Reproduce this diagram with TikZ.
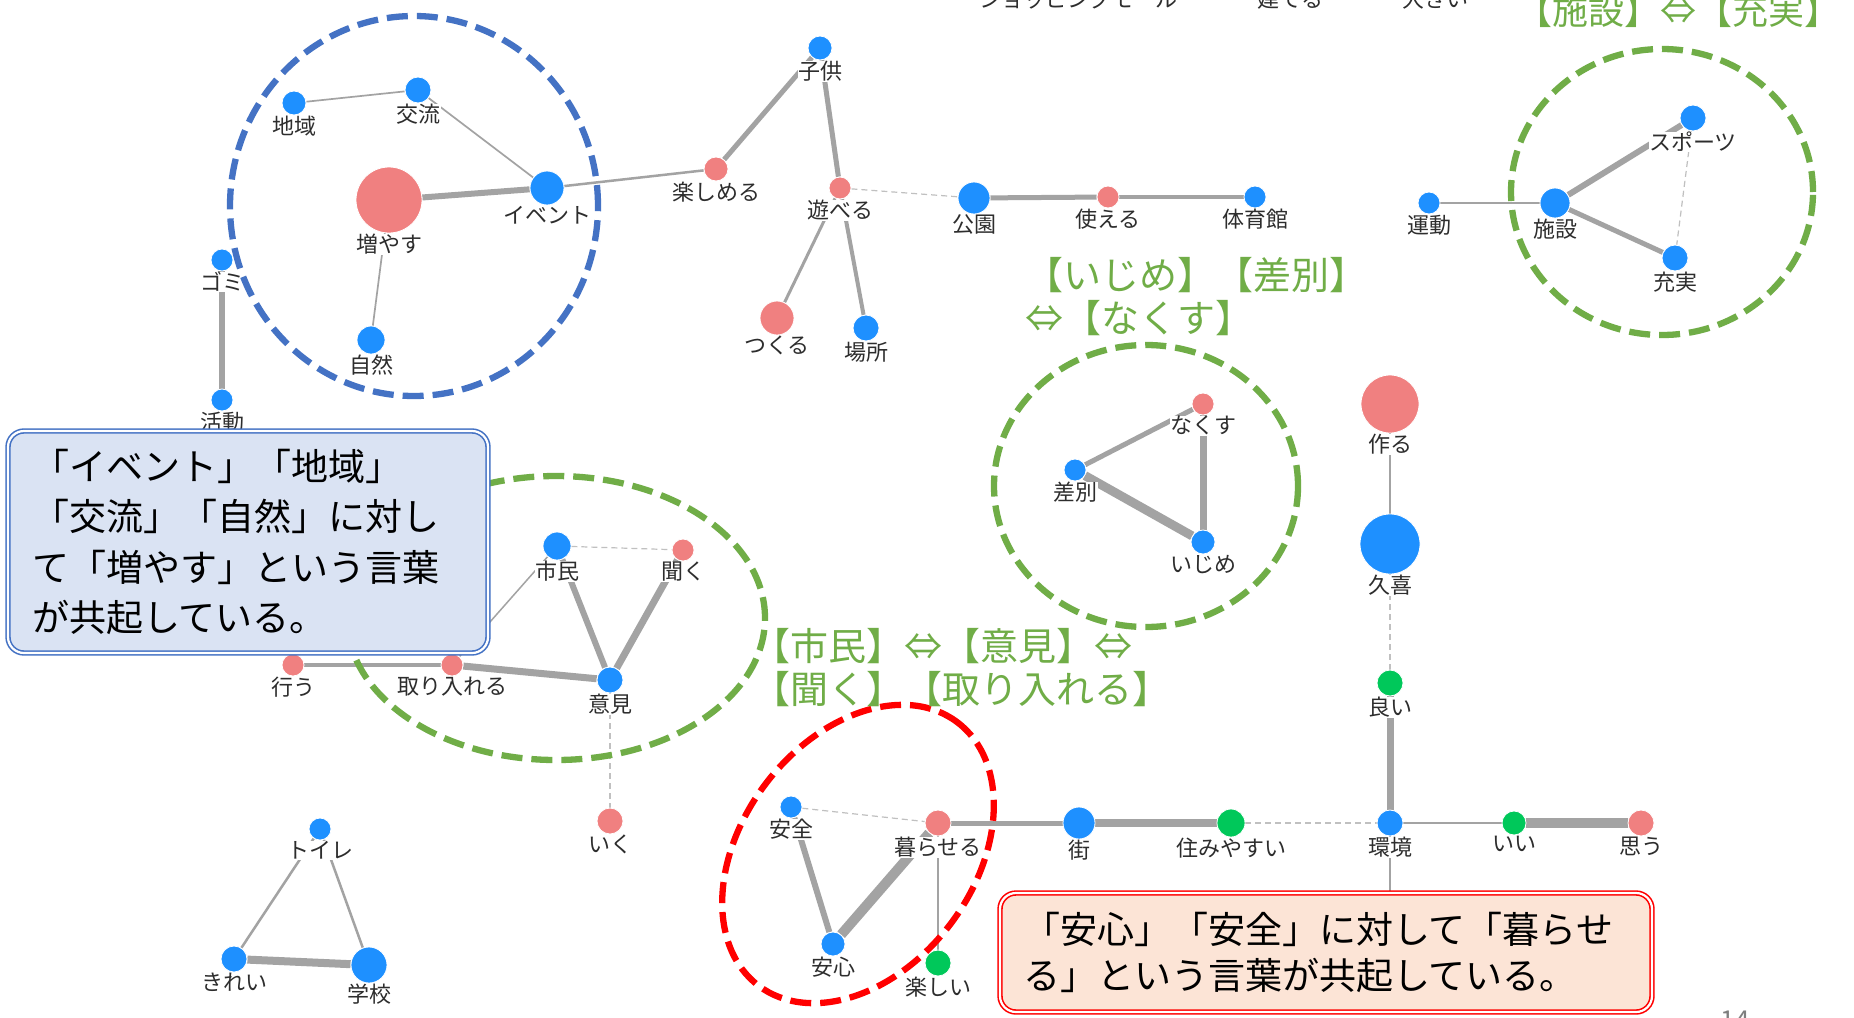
\documentclass[tikz,border=0pt]{standalone}
\usepackage{fontspec}
\setmainfont{Noto Sans CJK JP}
\usepackage{tikz}
\usetikzlibrary{backgrounds}

\definecolor{nodeblue}{RGB}{30,144,255}
\definecolor{nodered}{RGB}{240,128,128}
\definecolor{nodegreen}{RGB}{0,200,90}
\definecolor{linkgray}{RGB}{163,163,163}
\definecolor{weakgray}{RGB}{192,192,192}
\definecolor{lbltext}{RGB}{45,45,45}
\definecolor{ringblue}{RGB}{68,114,196}
\definecolor{ringgreen}{RGB}{112,173,71}
\definecolor{ringred}{RGB}{255,0,0}
\definecolor{boxfillblue}{RGB}{218,227,243}
\definecolor{boxfillred}{RGB}{252,228,214}
\definecolor{pagegray}{RGB}{127,127,127}

\newcommand{\lblsize}{\fontsize{22}{26}\selectfont}
\newcommand{\notesize}{\fontsize{38}{43}\selectfont}
\newcommand{\boxsize}{\fontsize{37}{50.5}\selectfont}

\begin{document}
\begin{tikzpicture}[
    x=1pt, y=-1pt,
    dot/.style={circle, draw=white, line width=0.8pt, inner sep=0pt},
    bdot/.style={dot, fill=nodeblue, minimum size=#1},
    rdot/.style={dot, fill=nodered, minimum size=#1},
    gdot/.style={dot, fill=nodegreen, minimum size=#1},
    every label/.style={font=\lblsize, text=lbltext, fill=white, inner sep=0.5pt},
    link/.style={draw=linkgray},
    weak/.style={draw=weakgray, line width=1.2pt, dash pattern=on 6pt off 4pt},
    ring/.style={line width=6.3pt, dash pattern=on 21pt off 9pt},
    notebox/.style={rectangle, rounded corners=16pt, line width=1.6pt, double=white,
                    double distance=2.2pt, align=left, font=\boxsize, text=black, inner sep=0pt},
    note/.style={font=\notesize, text=ringgreen, align=left, inner sep=0pt},
    toplbl/.style={font=\lblsize, text=lbltext, inner sep=0pt},
]
\useasboundingbox (0,0) rectangle (1854,1017);

% 左上のクラスタ
\node[bdot=24pt, label=below:地域] (chiiki) at (294,103) {};
\node[bdot=26pt, label=below:交流] (kouryu) at (418,90) {};
\node[rdot=66pt, label=below:増やす] (fuyasu) at (389,200) {};
\node[bdot=34pt, label=below:イベント] (event) at (547,188) {};
\node[bdot=28pt, label=below:自然] (shizen) at (371,340) {};
\node[bdot=22pt, label=below:ゴミ] (gomi) at (222,260) {};
\node[bdot=22pt, label=below:活動] (katsudo) at (222,400) {};
\node[rdot=24pt, label=below:楽しめる] (tanoshimeru) at (716,169) {};
\node[bdot=24pt, label=below:子供] (kodomo) at (820,48) {};
\node[rdot=22pt, label=below:遊べる] (asoberu) at (840,188) {};
\node[rdot=34pt, label=below:つくる] (tsukuru) at (777,318) {};
\node[bdot=26pt, label=below:場所] (basho) at (866,328) {};
\node[bdot=32pt, label=below:公園] (kouen) at (974,198) {};
\node[rdot=22pt, label=below:使える] (tsukaeru) at (1108,197) {};
\node[bdot=22pt, label=below:体育館] (taiikukan) at (1255,197) {};

% 右上のクラスタ
\node[bdot=22pt, label=below:運動] (undou) at (1429,203) {};
\node[bdot=30pt, label=below:施設] (shisetsu) at (1555,203) {};
\node[bdot=26pt, label=below:スポーツ] (sports) at (1693,118) {};
\node[bdot=26pt, label=below:充実] (juujitsu) at (1675,258) {};

% 中央のクラスタ
\node[rdot=22pt, label=below:なくす] (nakusu) at (1203,404) {};
\node[bdot=22pt, label=below:差別] (sabetsu) at (1075,470) {};
\node[bdot=24pt, label=below:いじめ] (ijime) at (1203,542) {};
\node[rdot=58pt, label=below:作る] (tsukuruK) at (1390,404) {};
\node[bdot=60pt, label=below:久喜] (kuki) at (1390,544) {};
\node[gdot=26pt, label=below:良い] (yoi) at (1390,683) {};
\node[bdot=26pt, label=below:環境] (kankyo) at (1390,823) {};
\node[bdot=32pt, label=below:街] (machi) at (1079,823) {};
\node[gdot=28pt, label=below:住みやすい] (sumiyasui) at (1231,823) {};
\node[gdot=24pt, label=below:いい] (ii) at (1514,823) {};
\node[rdot=26pt, label=below:思う] (omou) at (1641,823) {};
\node[rdot=26pt, label=below:暮らせる] (kuraseru) at (938,823) {};
\node[bdot=22pt, label=below:安全] (anzen) at (791,807) {};
\node[bdot=24pt, label=below:安心] (anshin) at (833,944) {};
\node[gdot=26pt, label=below:楽しい] (tanoshii) at (938,963) {};
\coordinate (kankyoend) at (1390,905);

% 左下のクラスタ
\node[bdot=28pt, label=below:市民] (shimin) at (557,546) {};
\node[rdot=22pt, label=below:聞く] (kiku) at (683,550) {};
\node[bdot=26pt, label=below:意見] (iken) at (610,680) {};
\node[rdot=22pt, label=below:取り入れる] (toriireru) at (452,665) {};
\node[rdot=22pt, label=below:行う] (okonau) at (293,665) {};
\node[rdot=26pt, label=below:いく] (iku) at (610,821) {};
\node[bdot=22pt, label=below:トイレ] (toire) at (320,829) {};
\node[bdot=26pt, label=below:きれい] (kirei) at (234,959) {};
\node[bdot=36pt, label=below:学校] (gakkou) at (369,965) {};

% 共起の線
\begin{scope}[on background layer]
\fill[white] (0,0) rectangle (1854,1017);
\draw[link, line width=1.7pt] (chiiki) -- (kouryu);
\draw[link, line width=1.7pt] (kouryu) -- (event);
\draw[link, line width=6pt] (fuyasu) -- (event);
\draw[link, line width=1.7pt] (fuyasu) -- (shizen);
\draw[link, line width=2.5pt] (event) -- (tanoshimeru);
\draw[link, line width=5pt] (tanoshimeru) -- (kodomo);
\draw[link, line width=5pt] (kodomo) -- (asoberu);
\draw[weak] (asoberu) -- (kouen);
\draw[link, line width=3pt] (asoberu) -- (tsukuru);
\draw[link, line width=4pt] (asoberu) -- (basho);
\draw[link, line width=6pt] (gomi) -- (katsudo);
\draw[link, line width=5pt] (kouen) -- (tsukaeru);
\draw[link, line width=3.5pt] (tsukaeru) -- (taiikukan);
\draw[link, line width=2.5pt] (undou) -- (shisetsu);
\draw[link, line width=6pt] (shisetsu) -- (sports);
\draw[link, line width=5pt] (shisetsu) -- (juujitsu);
\draw[weak] (sports) -- (juujitsu);
\draw[link, line width=5pt] (nakusu) -- (sabetsu);
\draw[link, line width=7pt] (nakusu) -- (ijime);
\draw[link, line width=9pt] (sabetsu) -- (ijime);
\draw[link, line width=2.5pt] (tsukuruK) -- (kuki);
\draw[weak] (kuki) -- (yoi);
\draw[link, line width=7pt] (yoi) -- (kankyo);
\draw[link, line width=1.7pt] (kankyo) -- (ii);
\draw[link, line width=10pt] (ii) -- (omou);
\draw[weak] (sumiyasui) -- (kankyo);
\draw[link, line width=8pt] (machi) -- (sumiyasui);
\draw[link, line width=5pt] (kuraseru) -- (machi);
\draw[weak] (anzen) -- (kuraseru);
\draw[link, line width=10pt] (anshin) -- (kuraseru);
\draw[link, line width=6pt] (anzen) -- (anshin);
\draw[link, line width=1.5pt] (kuraseru) -- (tanoshii);
\draw[link, line width=1.5pt] (kankyo) -- (kankyoend);
\draw[weak] (shimin) -- (kiku);
\draw[link, line width=6pt] (shimin) -- (iken);
\draw[link, line width=7pt] (kiku) -- (iken);
\draw[link, line width=7pt] (iken) -- (toriireru);
\draw[link, line width=4pt] (toriireru) -- (okonau);
\draw[link, line width=1.5pt] (shimin) -- (toriireru);
\draw[weak] (iken) -- (iku);
\draw[link, line width=2.5pt] (toire) -- (kirei);
\draw[link, line width=2.5pt] (toire) -- (gakkou);
\draw[link, line width=8pt] (kirei) -- (gakkou);
\end{scope}

% 囲み
\draw[ring, draw=ringblue] (414,206) ellipse [x radius=184pt, y radius=190pt];
\draw[ring, draw=ringgreen] (1662,192) ellipse [x radius=151pt, y radius=143pt];
\draw[ring, draw=ringgreen] (1146,486) ellipse [x radius=152pt, y radius=141pt];
\draw[ring, draw=ringgreen] (556,618) ellipse [x radius=209pt, y radius=142pt];
\draw[ring, draw=ringred, rotate around={53:(858,854)}] (858,854) ellipse [x radius=165pt, y radius=116pt];

% 説明の枠
\node[notebox, draw=ringblue, fill=boxfillblue, minimum width=480pt, minimum height=222pt,
      text width=432pt] (boxA) at (248,542)
      {「イベント」「地域」\\「交流」「自然」に対し\\て「増やす」という言葉\\が共起している。};
\node[notebox, draw=ringred, fill=boxfillred, minimum width=652pt, minimum height=119pt,
      text width=606pt] (boxB) at (1326,952.5)
      {「安心」「安全」に対して「暮らせ\\[-4pt]る」という言葉が共起している。};

% 緑の注記
\node[note, font=\fontsize{36}{43}\selectfont, anchor=west] (noteA) at (1516,11) {【施設】⇔【充実】};
\node[note, anchor=west] (noteB) at (1025,297) {【いじめ】【差別】\\⇔【なくす】};
\node[note, anchor=west] (noteC) at (752,668) {【市民】⇔【意見】⇔\\【聞く】【取り入れる】};

% 上端で切れた語とページ番号
\node[toplbl] (shopping) at (1078,-1) {ショッピングモール};
\node[toplbl] (tateru) at (1290,-1) {建てる};
\node[toplbl] (ookii) at (1435,-1) {大きい};
\node[font=\fontsize{26}{30}\selectfont, text=pagegray, anchor=north, inner sep=0pt] (pageno) at (1735,1011) {14};
\end{tikzpicture}
\end{document}
